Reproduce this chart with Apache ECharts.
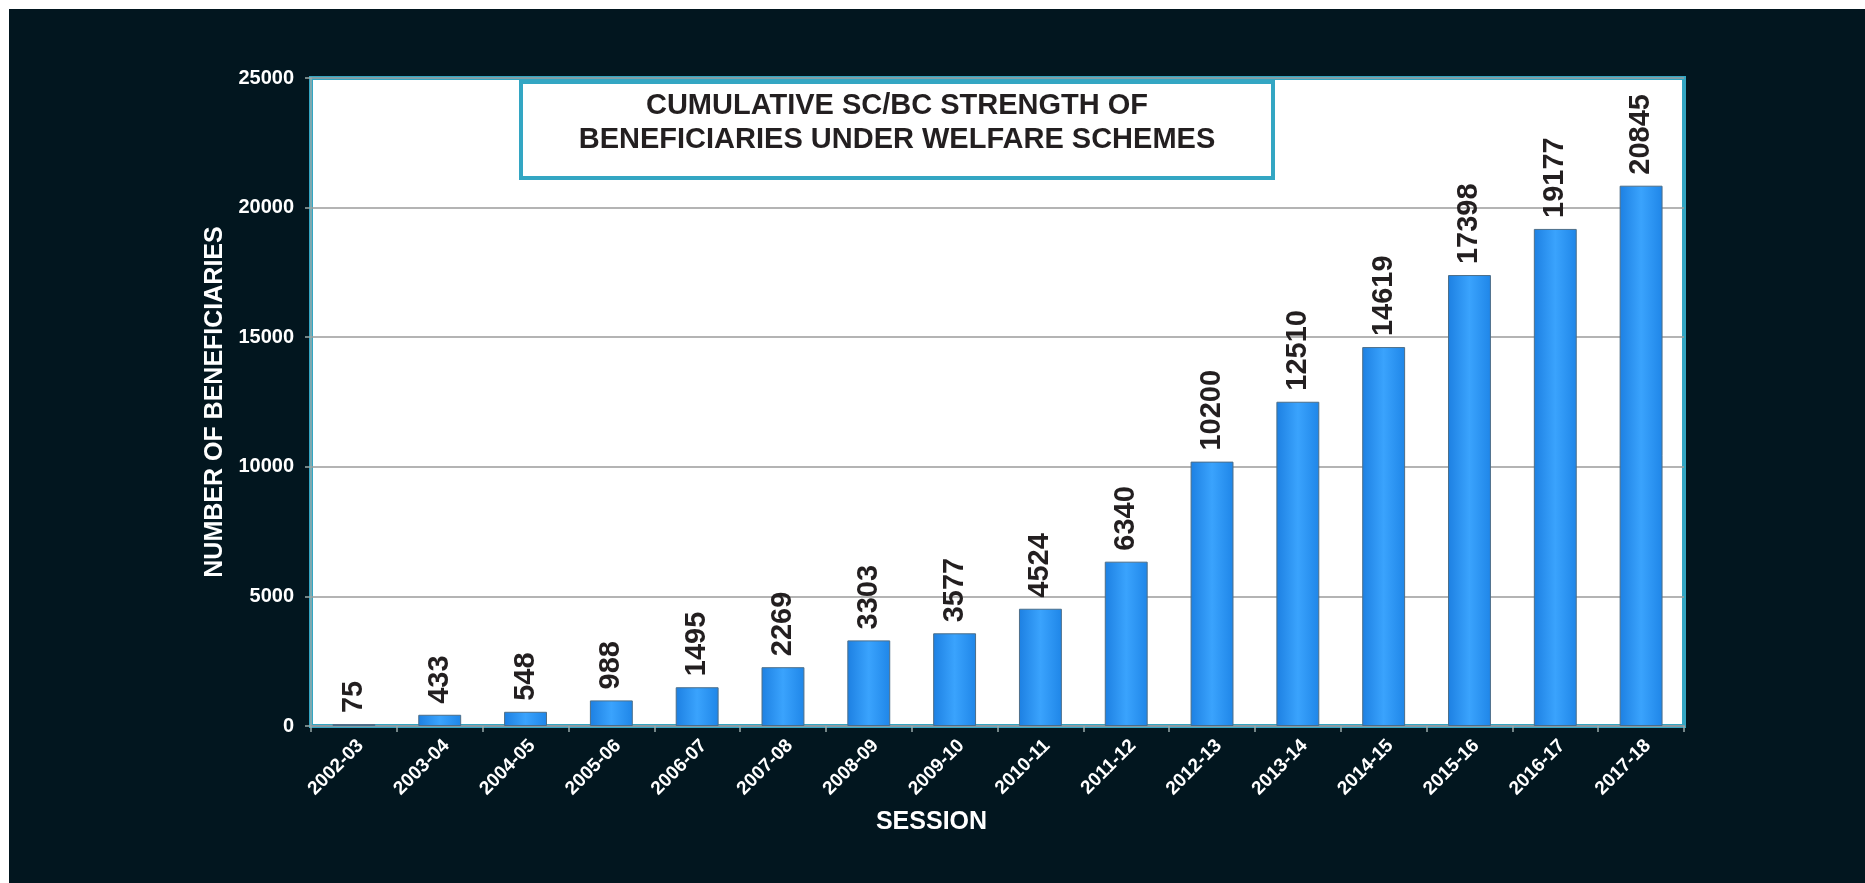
<!DOCTYPE html>
<html>
<head>
<meta charset="utf-8">
<title>Cumulative SC/BC strength of beneficiaries</title>
<script src="https://cdn.jsdelivr.net/npm/echarts@6/dist/echarts.min.js"></script>
<style>
  html, body { margin: 0; padding: 0; background: #fff; }
  #chart { width: 1865px; height: 883px; }
</style>
</head>
<body>
<div id="chart"></div>
<script>
// sessions on the x axis
const sessions = [
    '2002-03', '2003-04', '2004-05', '2005-06', '2006-07', '2007-08', '2008-09', '2009-10',
    '2010-11', '2011-12', '2012-13', '2013-14', '2014-15', '2015-16', '2016-17', '2017-18',
];
// cumulative beneficiaries per session
const beneficiaries = [
    75, 433, 548, 988, 1495, 2269, 3303, 3577,
    4524, 6340, 10200, 12510, 14619, 17398, 19177, 20845,
];
const titleLines = ['CUMULATIVE SC/BC STRENGTH OF', 'BENEFICIARIES UNDER WELFARE SCHEMES'];

const BG = '#02161f';
const TEAL = '#33a6c3';
const FONT = '"Liberation Sans", Arial, sans-serif';
const NARROW = '"Liberation Sans Narrow", "Arial Narrow", "Liberation Sans", sans-serif';

const chart = echarts.init(document.getElementById('chart'), null, { renderer: 'canvas' });

const barColor = new echarts.graphic.LinearGradient(0, 0, 1, 0, [
    { offset: 0, color: '#1d80e2' },
    { offset: 0.5, color: '#3aa3fd' },
    { offset: 1, color: '#1f86e8' },
]);

chart.setOption({
    backgroundColor: BG,
    animation: false,
    textStyle: { fontFamily: FONT },
    grid: {
        left: 311,
        right: 181,
        top: 78,
        bottom: 157,
        show: true,
        backgroundColor: '#fff',
        borderColor: TEAL,
        borderWidth: 4,
    },
    xAxis: {
        type: 'category',
        data: sessions,
        name: 'SESSION',
        nameLocation: 'middle',
        nameGap: 84,
        nameTextStyle: {
            color: '#fff',
            fontSize: 25,
            fontWeight: 'bold',
            padding: [0, 132, 0, 0],
        },
        axisLine: { lineStyle: { color: '#8a9aa3', width: 2 } },
        axisTick: { show: true, length: 6, lineStyle: { color: '#9aa', width: 1.5 } },
        axisLabel: {
            color: '#fff',
            fontSize: 19,
            fontWeight: 'bold',
            rotate: 45,
            verticalAlign: 'top',
            margin: 10,
            interval: 0,
        },
    },
    yAxis: {
        type: 'value',
        min: 0,
        max: 25000,
        interval: 5000,
        name: 'NUMBER OF BENEFICIARIES',
        nameLocation: 'middle',
        nameGap: 77,
        nameTextStyle: { color: '#fff', fontSize: 25, fontWeight: 'bold' },
        axisLine: { show: true, lineStyle: { color: '#9aa', width: 1.5 } },
        axisTick: { show: true, length: 6, lineStyle: { color: '#9aa', width: 1.5 } },
        axisLabel: {
            color: '#fff', fontSize: 20, fontWeight: 'bold', margin: 17,
            formatter: (v) => String(v),
        },
        splitLine: { lineStyle: { color: '#9b9b9b', width: 1.5 } },
    },
    series: [{
        type: 'bar',
        data: beneficiaries,
        barWidth: '50%',
        itemStyle: {
            color: barColor,
            borderColor: '#4d6e88',
            borderWidth: 1,
        },
        label: {
            show: true,
            position: 'top',
            rotate: 90,
            align: 'left',
            verticalAlign: 'middle',
            distance: 11,
            color: '#231f20',
            fontFamily: NARROW,
            fontSize: 29,
            fontWeight: 'bold',
        },
    }],
    graphic: [
        // white strips at the top and left edge of the picture
        { type: 'rect', shape: { x: 0, y: 0, width: 1865, height: 9 }, style: { fill: '#fff' }, z: 100 },
        { type: 'rect', shape: { x: 0, y: 0, width: 9, height: 883 }, style: { fill: '#fff' }, z: 100 },
        // title box
        {
            type: 'group',
            z: 100,
            children: [
                {
                    type: 'rect',
                    shape: { x: 521, y: 82, width: 752, height: 96 },
                    style: { fill: '#fff', stroke: TEAL, lineWidth: 4 },
                },
                {
                    type: 'text',
                    x: 897, y: 106,
                    style: {
                        text: titleLines[0], fill: '#231f20', font: 'bold 29px ' + FONT,
                        align: 'center', verticalAlign: 'middle',
                    },
                },
                {
                    type: 'text',
                    x: 897, y: 140,
                    style: {
                        text: titleLines[1], fill: '#231f20', font: 'bold 29px ' + FONT,
                        align: 'center', verticalAlign: 'middle',
                    },
                },
            ],
        },
    ],
});
</script>
</body>
</html>
